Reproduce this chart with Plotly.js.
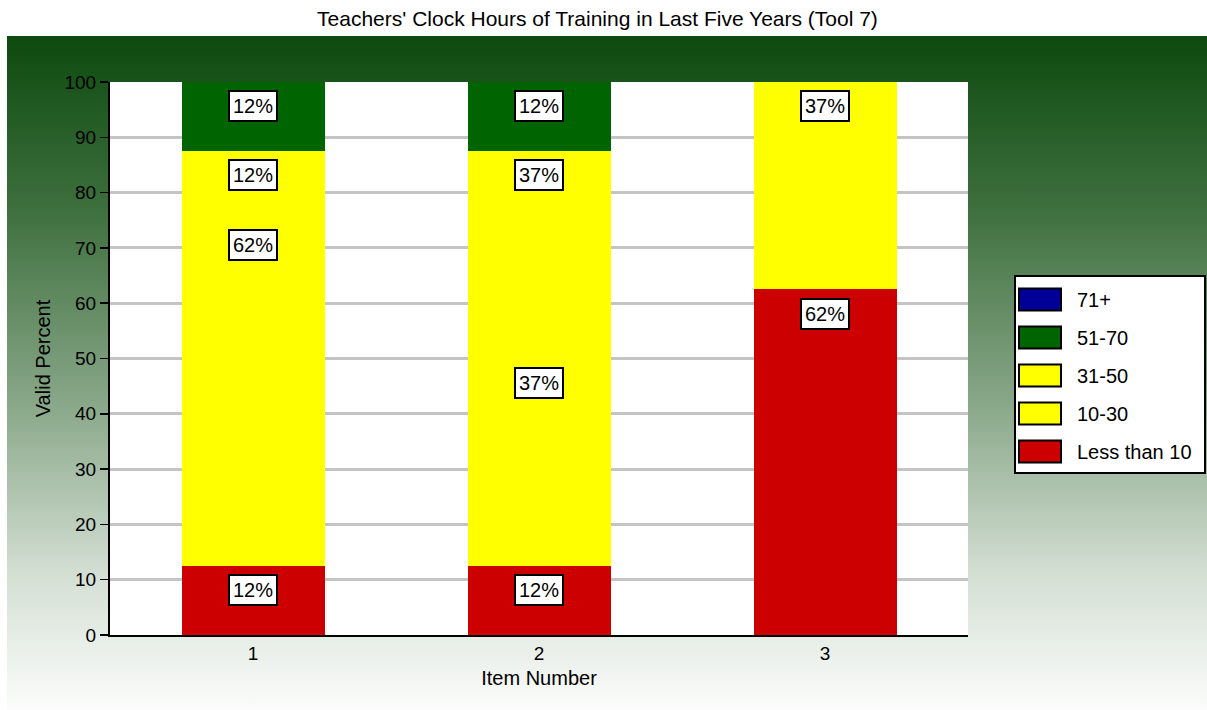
<!DOCTYPE html>
<html>
<head>
<meta charset="utf-8">
<script src="https://cdn.plot.ly/plotly-3.0.1.min.js"></script>
<style>
  html, body { margin: 0; padding: 0; background: #ffffff; }
  #wrap { position: relative; width: 1207px; height: 710px; overflow: hidden; }
  #bg { position: absolute; left: 7px; top: 36px; width: 1200px; height: 674px;
        background: linear-gradient(to bottom, #0d4a0f 0%, #3c6e3c 25%, #8aa88a 55%, #d4dfd4 80%, #fbfcfb 100%); }
  #chart { position: absolute; left: 0; top: 0; width: 1207px; height: 710px; }
</style>
</head>
<body>
<div id="wrap"><div id="bg"></div><div id="chart"></div></div>
<script>
// ---- Data ----
const items = ['1', '2', '3'];
const seriesNames = ['Less than 10', '10-30', '31-50', '51-70', '71+'];
const lessThan10 = [12.5, 12.5, 62.5];
const hrs10to30 = [62.5, 37.5, 37.5];
const hrs31to50 = [12.5, 37.5, 0];
const hrs51to70 = [12.5, 12.5, 0];
const hrs71plus = [0, 0, 0];
const seriesColors = ['#cc0000', '#ffff00', '#ffff00', '#006400', '#000099'];

const seriesValues = [lessThan10, hrs10to30, hrs31to50, hrs51to70, hrs71plus];

const FONT = 'Liberation Sans, Arial, sans-serif';
const W = 1207, H = 710;
const M = { l: 110, r: 239, t: 82, b: 75 };
const pw = W - M.l - M.r, ph = H - M.t - M.b;
const px2x = p => (p - M.l) / pw;
const py2y = p => (H - M.b - p) / ph;

const traces = seriesNames.map((name, i) => ({
  type: 'bar',
  name: name,
  x: items,
  y: seriesValues[i],
  marker: { color: seriesColors[i], line: { width: 0 } },
  width: 0.5,
  hoverinfo: 'skip',
  showlegend: false
}));

// Value labels near the top of each segment
const annotations = [];
items.forEach((it, j) => {
  let cum = 0;
  seriesValues.forEach((vals, i) => {
    const v = vals[j];
    if (v > 0) {
      cum += v;
      annotations.push({
        x: j, y: cum - 4.4, xref: 'x', yref: 'y',
        text: Math.floor(v) + '%', showarrow: false,
        font: { family: FONT, size: 20, color: '#000' },
        bgcolor: '#ffffff', bordercolor: '#000000', borderwidth: 2, borderpad: 3
      });
    }
  });
});

// Custom legend (top to bottom: reverse order)
const shapes = [];
shapes.push({ type: 'rect', xref: 'paper', yref: 'paper',
  x0: px2x(1015), x1: px2x(1205), y0: py2y(473), y1: py2y(276),
  fillcolor: '#ffffff', line: { color: '#000', width: 2 }, layer: 'below' });
const legendOrder = seriesNames.map((n, i) => i).reverse();
legendOrder.forEach((si, k) => {
  const cy = 299.5 + k * 38;
  shapes.push({ type: 'rect', xref: 'paper', yref: 'paper',
    x0: px2x(1019), x1: px2x(1061), y0: py2y(cy + 11), y1: py2y(cy - 11),
    fillcolor: seriesColors[si], line: { color: '#000', width: 2 } });
  annotations.push({ xref: 'paper', yref: 'paper', x: px2x(1075), y: py2y(cy),
    xanchor: 'left', yanchor: 'middle', showarrow: false, text: seriesNames[si],
    font: { family: FONT, size: 20, color: '#000' } });
});

const layout = {
  width: W, height: H,
  margin: M,
  paper_bgcolor: 'rgba(0,0,0,0)',
  plot_bgcolor: '#ffffff',
  barmode: 'stack',
  bargap: 0.5,
  showlegend: false,
  font: { family: FONT, size: 19, color: '#000' },
  title: { text: "Teachers' Clock Hours of Training in Last Five Years (Tool 7)",
           x: 0.495, xanchor: 'center', y: 1 - 19 / H, yanchor: 'middle',
           font: { family: FONT, size: 21, color: '#000' } },
  xaxis: {
    type: 'category', range: [-0.5, 2.5],
    showline: true, linecolor: '#000', linewidth: 2,
    ticks: '', showgrid: false, zeroline: false,
    tickfont: { family: FONT, size: 19, color: '#000' },
    title: { text: 'Item Number', standoff: 8, font: { family: FONT, size: 20, color: '#000' } }
  },
  yaxis: {
    range: [0, 100], dtick: 10, tick0: 0,
    showline: true, linecolor: '#000', linewidth: 2,
    ticks: 'outside', ticklen: 8, tickwidth: 1.5, tickcolor: '#000',
    showgrid: true, gridcolor: '#c4c4c4', gridwidth: 3, zeroline: false,
    tickfont: { family: FONT, size: 19, color: '#000' },
    title: { text: 'Valid Percent', standoff: 8, font: { family: FONT, size: 20, color: '#000' } }
  },
  shapes: shapes,
  annotations: annotations
};

Plotly.newPlot('chart', traces, layout, { displayModeBar: false, staticPlot: true });
</script>
</body>
</html>
